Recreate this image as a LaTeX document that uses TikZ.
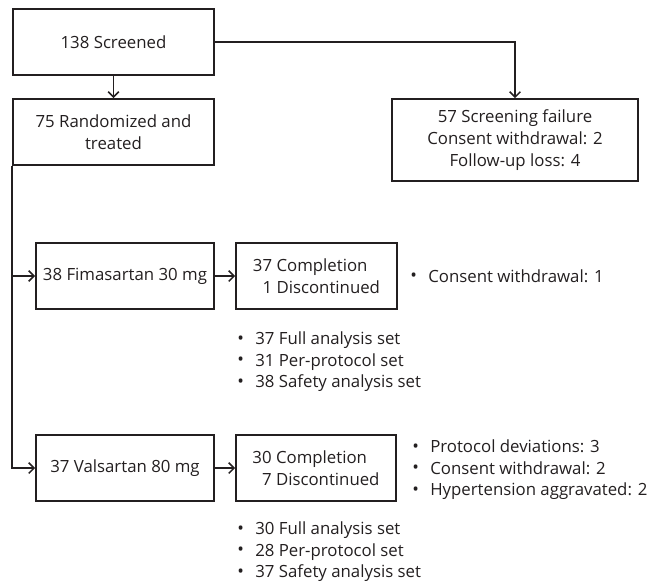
\documentclass[tikz,border=0pt]{standalone}
\usepackage{fontspec}
\setmainfont{Open Sans}
\usetikzlibrary{arrows.meta}
\definecolor{ink}{HTML}{231F20}
\newcommand\bul{\makebox[13.5pt][l]{\raisebox{0.3pt}{\scalebox{1.05}{•}}}}
\tikzset{
  box/.style={draw=ink, line width=1.4pt, inner sep=0pt, align=center, text=ink},
  conn/.style={draw=ink, line width=1.4pt},
  arr/.style={conn, -{Straight Barb[length=4pt,width=8pt,line width=1.1pt]}},
  lst/.style={anchor=west, inner sep=0pt, align=left, text=ink},
}
\begin{document}
\begin{tikzpicture}[x=0.75pt,y=-0.75pt,
  every node/.style={font=\fontsize{12.6pt}{16.2pt}\selectfont}]
\useasboundingbox (0,0) rectangle (652,585);
\node[box, minimum width=201*0.75pt, minimum height=66*0.75pt] (scr) at (113.5,42) {138 Screened};
\node[box, minimum width=201*0.75pt, minimum height=66*0.75pt] (rand) at (113.5,132) {75 Randomized and\\treated};
\node[box, minimum width=246*0.75pt, minimum height=82*0.75pt] (fail) at (515,140) {57 Screening failure\\Consent withdrawal: 2\\Follow-up loss: 4};
\node[box, minimum width=178*0.75pt, minimum height=66*0.75pt] (fim) at (125,276) {38 Fimasartan 30 mg};
\node[box, minimum width=161*0.75pt, minimum height=66*0.75pt, align=left] (fimc) at (316.5,276) {37 Completion\\\hphantom{3}1 Discontinued};
\node[box, minimum width=178*0.75pt, minimum height=66*0.75pt] (val) at (125,468) {37 Valsartan 80 mg};
\node[box, minimum width=160*0.75pt, minimum height=66*0.75pt, align=left] (valc) at (316,468) {30 Completion\\\hphantom{3}7 Discontinued};

\node[lst] (fimr) at (410,276) {\bul Consent withdrawal: 1};
\node[lst] (valr) at (412,470) {\bul Protocol deviations: 3\\\bul Consent withdrawal: 2\\\bul Hypertension aggravated: 2};
\node[lst] (fims) at (237,362) {\bul 37 Full analysis set\\\bul 31 Per-protocol set\\\bul 38 Safety analysis set};
\node[lst] (vals) at (237,552) {\bul 30 Full analysis set\\\bul 28 Per-protocol set\\\bul 37 Safety analysis set};

\coordinate (trunk) at (rand.south west);
\coordinate (jf) at (trunk |- fim.west);
\draw[arr] (scr) -- (rand);
\draw[arr] (scr.east) -| (fail.north);
\draw[arr] (trunk) |- (val.west);
\draw[arr] (jf) -- (fim.west);
\draw[arr] (fim) -- (fimc);
\draw[arr] (val) -- (valc);
\end{tikzpicture}
\end{document}
